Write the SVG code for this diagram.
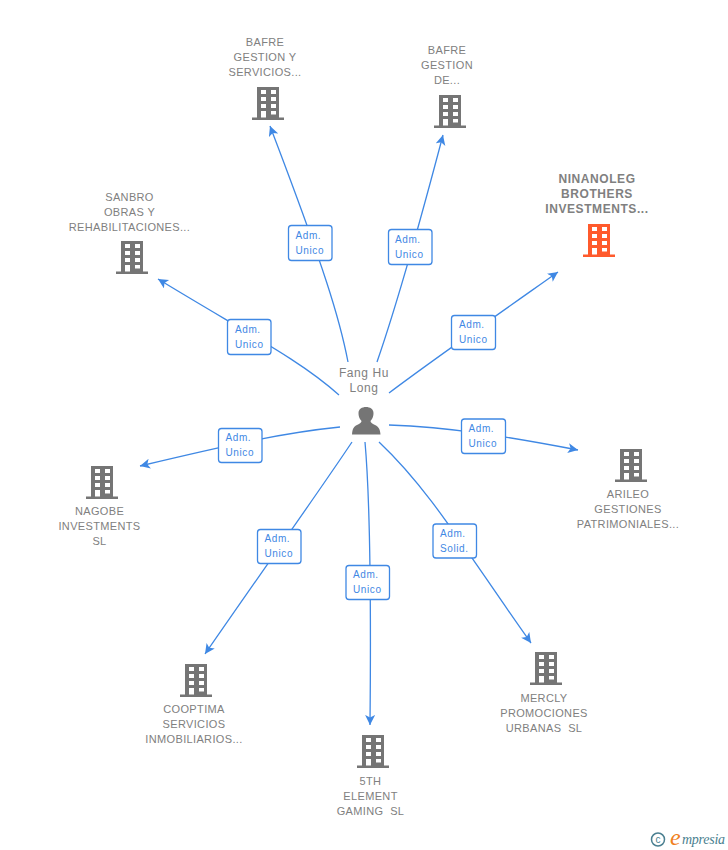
<svg xmlns="http://www.w3.org/2000/svg" width="728" height="850" viewBox="0 0 728 850">
<style>
.e{fill:none;stroke:#3f88e4;stroke-width:1.3}
.lb{fill:#fff;stroke:#3f88e4;stroke-width:1.3}
.lt{font:10px "Liberation Sans",Arial,sans-serif;letter-spacing:.6px;fill:#3f88e4}
.n{font:11px "Liberation Sans",Arial,sans-serif;letter-spacing:.35px;fill:#808080;text-anchor:middle;white-space:pre}
.r{font-weight:bold;font-size:12px;letter-spacing:.57px;fill:#808080}
.p{font-size:12px;letter-spacing:.6px}
.b{fill:#757575}
.o{fill:#ff5a2c}
</style>
<defs>
<marker id="a" markerUnits="userSpaceOnUse" markerWidth="12" markerHeight="12" refX="10" refY="5" orient="auto"><path d="M0 0L10 5L0 10L2.500 5Z" fill="#3f88e4"/></marker>
<path id="bld" fill-rule="evenodd" d="M5 0H27V30.500H32V33H0V30.500H5ZM9 3V7H14V3ZM19 3V7H24V3ZM9 10V14H14V10ZM19 10V14H24V10ZM9 17V21H14V17ZM19 17V21H24V17ZM9 24V30.500H14V24ZM19 24V27.500H24V24Z"/>
</defs>
<g id="connectors">
<path class="e" marker-end="url(#a)" d="M348 362C340 320 325 270 270 126"/>
<path class="e" marker-end="url(#a)" d="M377 362C395 310 418 230 443 135"/>
<path class="e" marker-end="url(#a)" d="M389 393C430 362 490 320 558 272"/>
<path class="e" marker-end="url(#a)" d="M339 395C300 360 250 335 158 279"/>
<path class="e" marker-end="url(#a)" d="M389 425C450 427 510 437 578 450"/>
<path class="e" marker-end="url(#a)" d="M340 427C280 433 220 447 140 466"/>
<path class="e" marker-end="url(#a)" d="M352 442C320 490 270 560 205 654"/>
<path class="e" marker-end="url(#a)" d="M365 442C371 510 371 620 370 725"/>
<path class="e" marker-end="url(#a)" d="M379 442C430 490 465 550 531 643"/>
</g>
<g id="edge-labels">
<g><rect class="lb" x="288.500" y="225.500" width="43.500" height="35" rx="3"/><text class="lt" x="295.500" y="239">Adm.</text><text class="lt" x="295.500" y="254">Unico</text></g>
<g><rect class="lb" x="388.500" y="229.500" width="43.500" height="35" rx="3"/><text class="lt" x="395" y="243">Adm.</text><text class="lt" x="395" y="258">Unico</text></g>
<g><rect class="lb" x="451.500" y="315.500" width="44" height="34" rx="3"/><text class="lt" x="459" y="328">Adm.</text><text class="lt" x="459" y="343">Unico</text></g>
<g><rect class="lb" x="227.500" y="319.500" width="43.500" height="35" rx="3"/><text class="lt" x="235" y="333">Adm.</text><text class="lt" x="235" y="348">Unico</text></g>
<g><rect class="lb" x="461.500" y="419" width="44" height="34.500" rx="3"/><text class="lt" x="468.500" y="432">Adm.</text><text class="lt" x="468.500" y="447">Unico</text></g>
<g><rect class="lb" x="218.500" y="428.500" width="43.500" height="34" rx="3"/><text class="lt" x="225.500" y="441">Adm.</text><text class="lt" x="225.500" y="456">Unico</text></g>
<g><rect class="lb" x="257.500" y="529.500" width="43.500" height="34" rx="3"/><text class="lt" x="264.500" y="542">Adm.</text><text class="lt" x="264.500" y="557">Unico</text></g>
<g><rect class="lb" x="346" y="565.500" width="43.500" height="34" rx="3"/><text class="lt" x="353" y="578">Adm.</text><text class="lt" x="353" y="593">Unico</text></g>
<g><rect class="lb" x="433" y="524" width="43.500" height="34" rx="3"/><text class="lt" x="440" y="537">Adm.</text><text class="lt" x="440" y="552">Solid.</text></g>
</g>
<g id="center"><text class="n p" x="364" y="377">Fang Hu</text><text class="n p" x="364" y="392">Long</text>
<path class="b" d="M352 434.500C352.500 428 354 426.500 357 425C360 423.500 361.500 422.500 361.500 421C359 418.500 358.500 415.500 358.500 413C358.500 409 362 407 366 407C370 407 373.500 409 373.500 413C373.500 415.500 373 418.500 370.500 421C370.500 422.500 372 423.500 375 425C378 426.500 380 428 380.500 434.500Z"/></g>
<g id="n1"><text class="n" x="265" y="46">BAFRE</text><text class="n" x="265" y="61">GESTION Y</text><text class="n" x="265" y="76">SERVICIOS...</text><use href="#bld" class="b" x="252" y="87"/></g>
<g id="n2"><text class="n" x="447" y="54">BAFRE</text><text class="n" x="447" y="69">GESTION</text><text class="n" x="447" y="84">DE...</text><use href="#bld" class="b" x="434" y="95"/></g>
<g id="n3"><text class="n r" x="597" y="183">NINANOLEG</text><text class="n r" x="597" y="198">BROTHERS</text><text class="n r" x="597" y="213">INVESTMENTS...</text><use href="#bld" class="o" x="583" y="224"/></g>
<g id="n4"><text class="n" x="129.500" y="201">SANBRO</text><text class="n" x="129.500" y="216">OBRAS Y</text><text class="n" x="129.500" y="231">REHABILITACIONES...</text><use href="#bld" class="b" x="116" y="241"/></g>
<g id="n5"><use href="#bld" class="b" x="615" y="449"/><text class="n" x="628" y="498">ARILEO</text><text class="n" x="628" y="513">GESTIONES</text><text class="n" x="628" y="528">PATRIMONIALES...</text></g>
<g id="n6"><use href="#bld" class="b" x="86" y="466"/><text class="n" x="99.500" y="515">NAGOBE</text><text class="n" x="99.500" y="530">INVESTMENTS</text><text class="n" x="99.500" y="545">SL</text></g>
<g id="n7"><use href="#bld" class="b" x="180" y="664"/><text class="n" x="194" y="713">COOPTIMA</text><text class="n" x="194" y="728">SERVICIOS</text><text class="n" x="194" y="743">INMOBILIARIOS...</text></g>
<g id="n8"><use href="#bld" class="b" x="357" y="735"/><text class="n" x="370.500" y="785">5TH</text><text class="n" x="370.500" y="800">ELEMENT</text><text class="n" x="370.500" y="815">GAMING  SL</text></g>
<g id="n9"><use href="#bld" class="b" x="530" y="652"/><text class="n" x="544" y="702">MERCLY</text><text class="n" x="544" y="717">PROMOCIONES</text><text class="n" x="544" y="732">URBANAS  SL</text></g>
<g id="logo"><circle cx="658" cy="839.500" r="6.500" fill="none" stroke="#4a7f90" stroke-width="1.500"/><text x="658" y="843" font-family="Liberation Sans,sans-serif" font-size="10" fill="#4a7f90" text-anchor="middle">c</text><text x="670" y="845" font-family="Liberation Serif,serif" font-style="italic" font-size="24" fill="#f08020">e</text><text x="682" y="844" font-family="Liberation Serif,serif" font-style="italic" font-size="14" textLength="43" fill="#4a7f90">mpresia</text></g>
</svg>
